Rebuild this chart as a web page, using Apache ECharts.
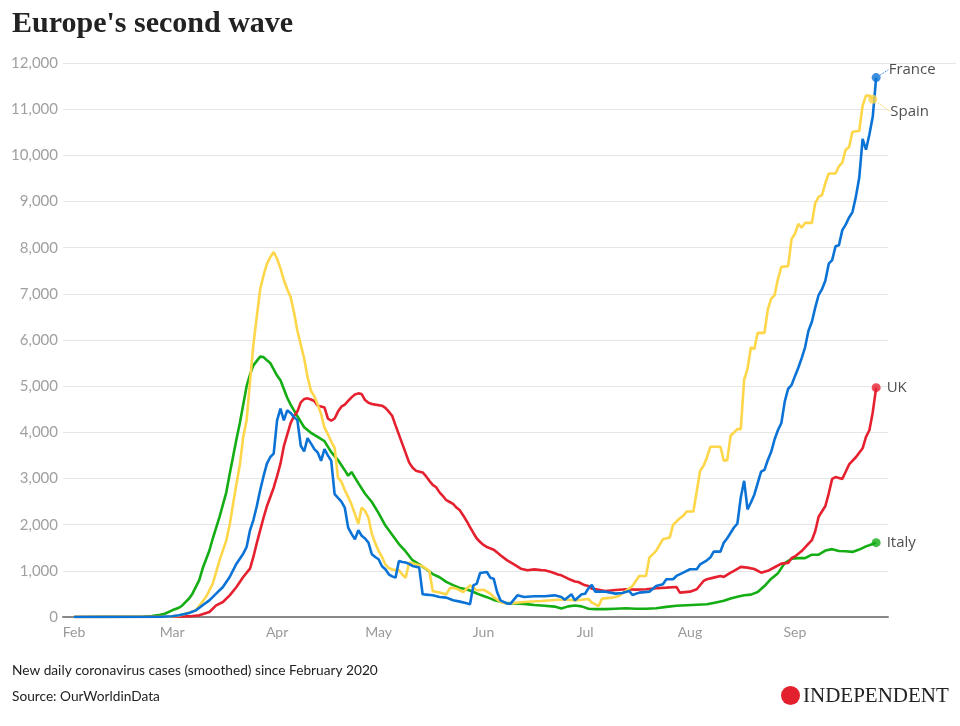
<!DOCTYPE html>
<html><head><meta charset="utf-8">
<script src="https://cdn.jsdelivr.net/npm/echarts@6/dist/echarts.min.js"></script>
<style>html,body{margin:0;padding:0;background:#fff}#c{width:960px;height:726px}</style>
</head><body><div id="c"></div>
<script>
// x values are days since 1 February 2020
const monthTicks = [0, 29, 60, 90, 121, 151, 182, 213];
const monthLabels = ['Feb', 'Mar', 'Apr', 'May', 'Jun', 'Jul', 'Aug', 'Sep'];
const yTicks = [0,1000,2000,3000,4000,5000,6000,7000,8000,9000,10000,11000,12000];

const franceCases = [[0,0],[20,0],[26,5],[29,15],[31,36],[34,87],[36,144],[38,253],[40,361],[42,505],[44,650],[46,866],[48,1155],[50,1372],[51,1516],[52,1877],[53,2100],[54,2400],[55,2744],[56,3050],[57,3321],[58,3466],[59,3538],[60,4260],[61,4513],[62,4260],[63,4476],[64,4420],[65,4330],[66,4265],[67,3709],[68,3586],[69,3875],[70,3760],[71,3637],[72,3564],[73,3384],[74,3637],[75,3500],[76,3384],[77,2661],[78,2580],[79,2500],[80,2371],[81,1938],[82,1800],[83,1685],[84,1880],[85,1760],[86,1700],[87,1612],[88,1359],[89,1300],[90,1251],[91,1100],[92,1034],[93,925],[94,880],[95,853],[96,1215],[97,1190],[98,1179],[99,1150],[100,1106],[101,1090],[102,1070],[103,492],[104,485],[106,470],[108,434],[110,419],[112,362],[114,333],[116,300],[117,274],[118,686],[119,722],[120,953],[122,975],[123,852],[124,830],[125,541],[126,361],[128,289],[129,289],[131,469],[133,433],[136,448],[139,448],[142,469],[144,433],[145,375],[147,491],[148,361],[150,491],[151,505],[152,622],[153,694],[154,549],[157,549],[160,506],[162,520],[164,564],[165,477],[167,528],[170,549],[172,672],[174,709],[175,817],[177,817],[178,889],[180,962],[182,1034],[184,1034],[185,1142],[187,1229],[188,1287],[189,1417],[191,1417],[192,1612],[193,1706],[195,1938],[196,2024],[197,2588],[198,2950],[199,2330],[200,2480],[201,2650],[202,2900],[203,3147],[204,3186],[205,3400],[206,3577],[207,3850],[208,4050],[209,4202],[210,4670],[211,4944],[212,5022],[213,5217],[214,5400],[215,5608],[216,5842],[217,6200],[218,6389],[219,6701],[220,6974],[221,7100],[222,7287],[223,7654],[224,7732],[225,8029],[226,8052],[227,8380],[228,8500],[229,8653],[230,8771],[231,9100],[232,9513],[233,10357],[234,10122],[235,10450],[236,10840],[237,11684]];

const spainCases = [[0,0],[28,5],[31,30],[33,72],[36,144],[39,433],[41,722],[43,1227],[45,1660],[46,2000],[47,2450],[48,2888],[49,3300],[50,3900],[51,4260],[52,5100],[53,5900],[54,6498],[55,7100],[56,7400],[57,7650],[58,7798],[59,7906],[60,7760],[61,7550],[62,7300],[63,7100],[64,6931],[65,6600],[66,6200],[67,5900],[68,5600],[69,5200],[70,4900],[71,4780],[72,4600],[73,4400],[74,4100],[75,3960],[76,3800],[77,3670],[78,3020],[79,2930],[80,2750],[81,2600],[82,2440],[83,2230],[84,2020],[85,2370],[86,2300],[87,2150],[88,1800],[89,1600],[90,1430],[91,1300],[92,1140],[93,1060],[94,1030],[96,1010],[97,920],[98,850],[99,1180],[101,1140],[103,1100],[105,1000],[106,560],[108,530],[110,490],[111,620],[112,635],[113,614],[115,541],[117,686],[119,578],[121,592],[123,505],[124,433],[126,325],[128,289],[133,325],[138,347],[143,375],[146,375],[148,361],[150,375],[152,390],[153,311],[155,239],[156,398],[159,419],[161,455],[163,564],[165,672],[167,889],[169,889],[170,1287],[172,1432],[174,1685],[176,1721],[177,1995],[179,2140],[180,2191],[181,2285],[183,2285],[185,3167],[186,3275],[187,3456],[188,3687],[191,3687],[192,3384],[193,3398],[194,3926],[196,4070],[197,4070],[198,5139],[199,5373],[200,5842],[201,5803],[202,6154],[204,6154],[205,6662],[206,6896],[207,6974],[208,7326],[209,7584],[211,7599],[212,8185],[213,8302],[214,8513],[215,8435],[216,8536],[218,8536],[219,8966],[220,9099],[221,9138],[222,9400],[223,9606],[225,9606],[226,9763],[227,9841],[228,10122],[229,10177],[230,10512],[232,10528],[233,11075],[234,11293],[235,11293],[236,11215]];

const ukCases = [[0,0],[30,5],[35,20],[37,36],[40,108],[42,253],[44,325],[46,469],[48,650],[50,866],[52,1047],[53,1300],[54,1600],[55,1877],[56,2150],[57,2400],[58,2599],[59,2800],[60,3050],[61,3321],[62,3700],[63,3950],[64,4200],[65,4350],[66,4450],[67,4650],[68,4720],[69,4736],[70,4710],[71,4680],[72,4577],[73,4560],[74,4540],[75,4300],[76,4251],[77,4300],[78,4450],[79,4555],[80,4600],[81,4680],[82,4757],[83,4820],[84,4844],[85,4830],[86,4700],[87,4640],[88,4613],[89,4600],[91,4577],[92,4530],[93,4450],[94,4360],[95,4150],[96,3950],[97,3750],[98,3550],[99,3350],[100,3239],[101,3170],[103,3131],[104,3050],[105,2950],[106,2863],[107,2810],[108,2700],[109,2620],[110,2530],[111,2491],[112,2450],[113,2371],[114,2310],[115,2200],[116,2080],[117,1949],[118,1820],[119,1700],[120,1625],[121,1560],[122,1516],[124,1458],[125,1400],[126,1336],[128,1227],[130,1141],[132,1047],[134,1011],[136,1032],[138,1015],[139,1011],[141,975],[143,920],[144,902],[146,830],[148,770],[149,758],[151,686],[152,672],[153,614],[155,590],[157,564],[160,586],[163,600],[166,593],[169,600],[172,622],[175,636],[178,651],[179,528],[182,549],[184,600],[186,781],[187,817],[189,853],[191,889],[192,868],[194,962],[195,998],[197,1085],[199,1070],[201,1040],[203,961],[205,1000],[207,1078],[209,1156],[211,1172],[212,1273],[213,1312],[215,1429],[216,1507],[218,1664],[219,1859],[220,2171],[222,2405],[223,2679],[224,2991],[225,3030],[227,2991],[228,3147],[229,3304],[231,3460],[233,3655],[234,3900],[235,4046],[236,4436],[237,4967]];

const italyCases = [[0,0],[10,2],[20,5],[23,20],[25,40],[27,75],[29,145],[31,200],[32,250],[34,400],[35,505],[37,800],[38,1050],[40,1440],[41,1700],[43,2170],[45,2700],[46,3100],[48,3850],[49,4200],[51,5000],[52,5250],[53,5450],[55,5640],[56,5630],[57,5560],[58,5500],[60,5230],[61,5130],[63,4750],[64,4600],[66,4350],[68,4110],[70,3990],[72,3900],[74,3810],[76,3570],[78,3400],[80,3180],[81,3060],[82,3140],[84,2900],[86,2670],[88,2490],[90,2250],[92,1980],[94,1780],[96,1580],[98,1420],[100,1230],[102,1140],[104,1040],[106,930],[108,860],[110,760],[112,690],[114,630],[116,600],[118,540],[120,480],[122,430],[124,370],[126,330],[128,300],[130,295],[133,285],[136,260],[139,245],[142,225],[144,185],[146,230],[148,250],[150,230],[152,180],[154,170],[157,170],[160,180],[163,188],[166,180],[169,178],[172,188],[175,220],[178,245],[181,255],[184,265],[187,275],[190,320],[192,350],[194,400],[196,440],[198,470],[200,485],[202,540],[204,670],[206,830],[208,950],[210,1170],[212,1260],[214,1275],[216,1275],[218,1350],[220,1350],[222,1440],[224,1470],[226,1430],[228,1425],[230,1410],[232,1460],[234,1530],[236,1580],[237,1610]];

const countries = ['Italy', 'UK', 'Spain', 'France'];
const colors = { France: '#0b73d6', Spain: '#fdd64a', UK: '#e6212f', Italy: '#14ad14' };
const seriesData = { France: franceCases, Spain: spainCases, UK: ukCases, Italy: italyCases };
const labelShift = { France: [2, -8], Spain: [7, 12], UK: [0, 0], Italy: [0, 0] };

const series = [];
countries.forEach(function (name) {
  const data = seriesData[name];
  const sh = labelShift[name];
  const moved = sh[0] !== 0 || sh[1] !== 0;
  series.push({
    type: 'line', name: name, data: data, symbol: 'none', silent: true,
    lineStyle: { color: colors[name], width: 2.6 }, z: 2
  });
  series.push({
    type: 'scatter', name: name + ' end', data: [data[data.length - 1]],
    symbol: 'circle', symbolSize: 9, z: 5,
    itemStyle: { color: colors[name] },
    label: {
      show: true, position: 'right', distance: 6, formatter: name,
      fontFamily: 'Open Sans', fontSize: 15, color: '#222'
    },
    labelLayout: moved ? { dx: sh[0], dy: sh[1] } : undefined,
    labelLine: { show: moved, length2: 0, lineStyle: { color: colors[name], width: 1, type: 'dotted' } }
  });
});

const chart = echarts.init(document.getElementById('c'), null, { renderer: 'canvas' });
chart.setOption({
  animation: false,
  backgroundColor: '#fff',
  title: {
    text: "Europe's second wave", left: 7, top: 4,
    textStyle: { fontFamily: 'Liberation Serif', fontWeight: 'bold', fontSize: 30, color: '#222' }
  },
  grid: { left: 63, right: 72, top: 63, bottom: 109, containLabel: false },
  xAxis: {
    type: 'value', min: -3.25, max: 240.5,
    splitLine: { show: false },
    axisLine: { show: true, lineStyle: { color: '#888', width: 2 } },
    axisTick: { show: false },
    axisLabel: {
      customValues: monthTicks,
      formatter: function (v) { const i = monthTicks.indexOf(v); return i >= 0 ? monthLabels[i] : ''; },
      fontFamily: 'Lato', fontSize: 14, color: '#999', margin: 8
    }
  },
  yAxis: {
    type: 'value', min: 0, max: 12000, interval: 1000,
    axisLine: { show: false }, axisTick: { show: false },
    splitLine: { lineStyle: { color: '#e6e6e6', width: 1 } },
    axisLabel: {
      formatter: function (v) { return v.toLocaleString('en-US'); },
      fontFamily: 'Lato', fontSize: 15, color: '#a0a0a0', margin: 5
    }
  },
  series: series,
  graphic: [
    { type: 'line', shape: { x1: 888, y1: 63.5, x2: 956, y2: 63.5 }, style: { stroke: '#e6e6e6', lineWidth: 1 }, z: 0 },
    { type: 'text', left: 12, top: 664, style: { text: 'New daily coronavirus cases (smoothed) since February 2020', font: '13.7px Lato', fill: '#222' } },
    { type: 'text', left: 12, top: 690, style: { text: 'Source: OurWorldinData', font: '13.7px Lato', fill: '#222' } },
    { type: 'circle', shape: { cx: 790.5, cy: 695.5, r: 9.5 }, style: { fill: '#e3212e' } },
    { type: 'text', x: 803, y: 696, style: { text: 'INDEPENDENT', font: '21px "Liberation Serif"', fill: '#222', verticalAlign: 'middle' } }
  ]
});
</script>
</body></html>
